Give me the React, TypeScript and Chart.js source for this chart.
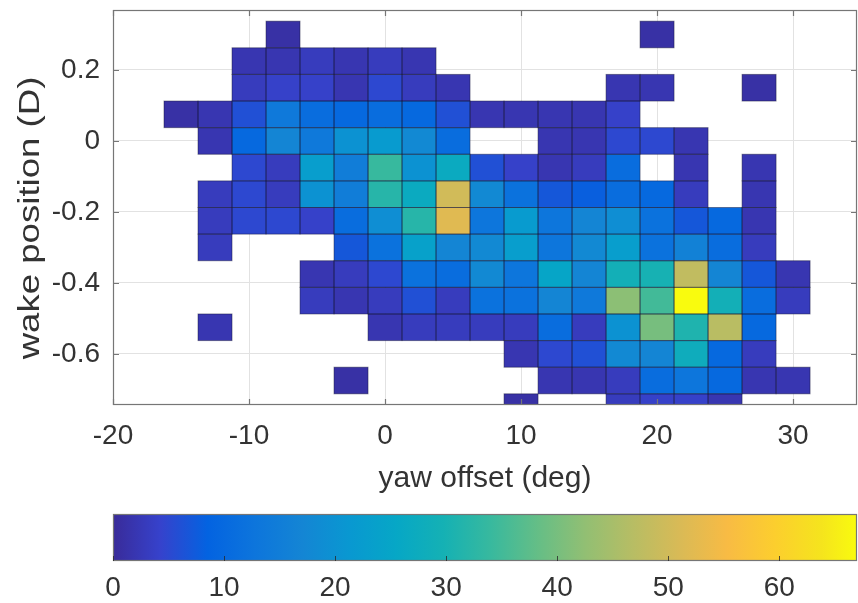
import React, { useEffect, useRef } from 'react';
import { Chart, registerables } from 'chart.js';

Chart.register(...registerables);

// ---- data ----
const xCenters = [-15, -12.5, -10, -7.5, -5, -2.5, 0, 2.5, 5, 7.5, 10, 12.5, 15, 17.5, 20, 22.5, 25, 27.5, 30];
const yCenters = [0.3, 0.225, 0.15, 0.075, 0, -0.075, -0.15, -0.225, -0.3, -0.375, -0.45, -0.525, -0.6, -0.675, -0.75];

// counts per row (0 = empty bin), columns follow xCenters
const row_p300 = [0, 0, 0, 1, 0, 0, 0, 0, 0, 0, 0, 0, 0, 0, 1, 0, 0, 0, 0];
const row_p225 = [0, 0, 2, 2, 3, 2, 3, 2, 0, 0, 0, 0, 0, 0, 0, 0, 0, 0, 0];
const row_p150 = [0, 0, 3, 4, 4, 2, 5, 3, 2, 0, 0, 0, 0, 2, 2, 0, 0, 1, 0];
const row_p075 = [1, 2, 6, 14, 11, 10, 11, 10, 6, 2, 2, 2, 2, 4, 0, 0, 0, 0, 0];
const row_000 = [0, 2, 10, 17, 14, 20, 22, 18, 11, 0, 0, 2, 2, 5, 5, 2, 0, 0, 0];
const row_m075 = [0, 0, 5, 3, 23, 15, 34, 20, 27, 6, 4, 2, 3, 11, 0, 2, 0, 2, 0];
const row_m150 = [0, 3, 5, 3, 20, 15, 32, 27, 50, 18, 12, 7, 8, 11, 10, 3, 0, 2, 0];
const row_m225 = [0, 3, 5, 5, 4, 11, 19, 32, 52, 13, 22, 13, 17, 19, 12, 7, 10, 2, 0];
const row_m300 = [0, 3, 0, 0, 0, 7, 12, 24, 17, 18, 23, 13, 18, 23, 12, 16, 11, 3, 0];
const row_m375 = [0, 0, 0, 0, 2, 3, 5, 12, 11, 18, 13, 25, 17, 29, 30, 48, 17, 7, 2];
const row_m450 = [0, 0, 0, 0, 3, 2, 3, 6, 3, 12, 12, 17, 14, 42, 35, 67, 29, 11, 3];
const row_m525 = [0, 2, 0, 0, 0, 0, 2, 3, 3, 3, 3, 11, 3, 20, 40, 31, 47, 10, 0];
const row_m600 = [0, 0, 0, 0, 0, 0, 0, 0, 0, 0, 2, 5, 6, 18, 17, 28, 10, 3, 0];
const row_m675 = [0, 0, 0, 0, 0, 1, 0, 0, 0, 0, 0, 2, 2, 3, 11, 13, 10, 2, 2];
const row_m750 = [0, 0, 0, 0, 0, 0, 0, 0, 0, 0, 1, 0, 0, 3, 4, 4, 2, 0, 0];

const countRows = [row_p300, row_p225, row_p150, row_p075, row_000, row_m075, row_m150,
  row_m225, row_m300, row_m375, row_m450, row_m525, row_m600, row_m675, row_m750];

const xTickValues = [-20, -10, 0, 10, 20, 30];
const yTickValues = [0.2, 0, -0.2, -0.4, -0.6];
const colorbarTicks = [0, 10, 20, 30, 40, 50, 60];

const X_BIN = 2.5;
const Y_BIN = 0.075;
const C_MAX = 67;
const X_MIN = -20;
const X_MAX = 34.7;
const Y_MIN = -0.744;
const Y_MAX = 0.369;

const X_LABEL = 'yaw offset (deg)';
const Y_LABEL = 'wake position (D)';

// ---- style ----
const FONT = '"Liberation Sans", Arial, Helvetica, sans-serif';
const TEXT = '#333333';
const FRAME = '#767676';

// parula anchors (index out of 63)
const PARULA: [number, number, number, number][] = [
  [0, 0.2250, 0.1700, 0.6000],
  [4, 0.2100, 0.2600, 0.8000],
  [8, 0.0117, 0.3875, 0.8820],
  [12, 0.0498, 0.4586, 0.8641],
  [16, 0.0793, 0.5200, 0.8312],
  [20, 0.0343, 0.5966, 0.8199],
  [24, 0.0228, 0.6535, 0.7768],
  [28, 0.0843, 0.6928, 0.7062],
  [32, 0.2178, 0.7250, 0.6193],
  [36, 0.3953, 0.7459, 0.5244],
  [40, 0.5709, 0.7485, 0.4494],
  [44, 0.7184, 0.7411, 0.3905],
  [48, 0.8507, 0.7299, 0.3360],
  [52, 0.9739, 0.7314, 0.2666],
  [56, 0.9880, 0.8066, 0.1794],
  [60, 0.9589, 0.8949, 0.1132],
  [63, 0.9763, 0.9831, 0.0538],
];

function parula(t: number): string {
  const p = Math.max(0, Math.min(1, t)) * 63;
  let i = 0;
  while (i < PARULA.length - 2 && PARULA[i + 1][0] < p) i++;
  const a = PARULA[i];
  const b = PARULA[i + 1];
  const f = (p - a[0]) / (b[0] - a[0]);
  const c = [1, 2, 3].map((k) => Math.round(255 * (a[k] + (b[k] - a[k]) * f)));
  return `rgb(${c[0]},${c[1]},${c[2]})`;
}

const heatmapPlugin = {
  id: 'heatmapCells',
  beforeDatasetsDraw(chart: any) {
    const { ctx, chartArea, scales } = chart;
    const xs = scales.x;
    const ys = scales.y;
    const pts = chart.data.datasets[0].data as any[];
    ctx.save();
    ctx.beginPath();
    ctx.rect(chartArea.left, chartArea.top, chartArea.right - chartArea.left, chartArea.bottom - chartArea.top);
    ctx.clip();
    for (const p of pts) {
      const x0 = xs.getPixelForValue(p.x - X_BIN / 2);
      const x1 = xs.getPixelForValue(p.x + X_BIN / 2);
      const y0 = ys.getPixelForValue(p.y + Y_BIN / 2);
      const y1 = ys.getPixelForValue(p.y - Y_BIN / 2);
      ctx.fillStyle = parula(p.v / C_MAX);
      ctx.fillRect(x0, y0, x1 - x0, y1 - y0);
    }
    ctx.strokeStyle = 'rgba(20,20,50,0.45)';
    ctx.lineWidth = 1;
    for (const p of pts) {
      const x0 = xs.getPixelForValue(p.x - X_BIN / 2);
      const x1 = xs.getPixelForValue(p.x + X_BIN / 2);
      const y0 = ys.getPixelForValue(p.y + Y_BIN / 2);
      const y1 = ys.getPixelForValue(p.y - Y_BIN / 2);
      ctx.strokeRect(x0, y0, x1 - x0, y1 - y0);
    }
    ctx.restore();
  },
};

const framePlugin = {
  id: 'matlabFrame',
  afterDraw(chart: any) {
    const { ctx, chartArea, scales } = chart;
    const { left, right, top, bottom } = chartArea;
    ctx.save();
    ctx.strokeStyle = FRAME;
    ctx.lineWidth = 1.2;
    ctx.strokeRect(left + 0.5, top + 0.5, right - left - 1, bottom - top - 1);
    const tl = 6;
    ctx.beginPath();
    for (const v of xTickValues) {
      const px = Math.round(scales.x.getPixelForValue(v)) + 0.5;
      ctx.moveTo(px, bottom); ctx.lineTo(px, bottom - tl);
      ctx.moveTo(px, top); ctx.lineTo(px, top + tl);
    }
    for (const v of yTickValues) {
      const py = Math.round(scales.y.getPixelForValue(v)) + 0.5;
      ctx.moveTo(left, py); ctx.lineTo(left + tl, py);
      ctx.moveTo(right, py); ctx.lineTo(right - tl, py);
    }
    ctx.stroke();
    // y axis label (stretched along its length as in the reference)
    ctx.translate(31, 218);
    ctx.rotate(-Math.PI / 2);
    ctx.scale(1.22, 1);
    ctx.font = `30px ${FONT}`;
    ctx.fillStyle = TEXT;
    ctx.textAlign = 'center';
    ctx.textBaseline = 'middle';
    ctx.fillText(Y_LABEL, 0, 0);
    ctx.restore();
  },
};

const colorbarPlugin = {
  id: 'colorbarFill',
  beforeDatasetsDraw(chart: any) {
    const { ctx, chartArea, scales } = chart;
    const xs = scales.x;
    const { left, right, top, bottom } = chartArea;
    const g = ctx.createLinearGradient(xs.getPixelForValue(0), 0, xs.getPixelForValue(C_MAX), 0);
    for (const a of PARULA) {
      const t = a[0] / 63;
      g.addColorStop(t, parula(t));
    }
    ctx.save();
    ctx.fillStyle = g;
    ctx.fillRect(left, top, right - left, bottom - top);
    ctx.strokeStyle = FRAME;
    ctx.lineWidth = 1.2;
    ctx.strokeRect(left + 0.5, top + 0.5, right - left - 1, bottom - top - 1);
    ctx.strokeStyle = 'rgba(40,40,40,0.8)';
    ctx.lineWidth = 1;
    ctx.beginPath();
    for (const v of colorbarTicks) {
      const px = Math.round(xs.getPixelForValue(v)) + 0.5;
      ctx.moveTo(px, bottom);
      ctx.lineTo(px, bottom - 5);
    }
    ctx.stroke();
    ctx.restore();
  },
};

function buildPoints() {
  const pts: { x: number; y: number; v: number }[] = [];
  countRows.forEach((row, i) => {
    row.forEach((v, j) => {
      if (v > 0) pts.push({ x: xCenters[j], y: yCenters[i], v });
    });
  });
  return pts;
}

export default function App() {
  const mainRef = useRef<HTMLCanvasElement | null>(null);
  const barRef = useRef<HTMLCanvasElement | null>(null);

  useEffect(() => {
    const tickFont = { family: FONT, size: 28 };
    const main = new Chart(mainRef.current as HTMLCanvasElement, {
      type: 'scatter',
      data: {
        datasets: [{ data: buildPoints() as any, pointRadius: 0, pointHoverRadius: 0 }],
      },
      options: {
        responsive: false,
        animation: false,
        events: [],
        layout: { padding: { left: 0, top: 10, right: 1, bottom: 0 } },
        plugins: { legend: { display: false }, tooltip: { enabled: false } },
        scales: {
          x: {
            type: 'linear',
            min: X_MIN,
            max: X_MAX,
            afterFit: (s: any) => { s.height = 95; s.paddingLeft = 0; s.paddingRight = 0; },
            afterBuildTicks: (s: any) => { s.ticks = xTickValues.map((v) => ({ value: v })); },
            ticks: {
              font: tickFont, color: TEXT, padding: 14, maxRotation: 0, autoSkip: false,
              callback: (v: any) => String(v),
            },
            grid: { color: '#e2e2e2', drawTicks: false, lineWidth: 1 },
            border: { display: false },
            title: {
              display: true, text: X_LABEL, color: TEXT,
              font: { family: FONT, size: 30 }, padding: { top: 0, bottom: 3 },
            },
          },
          y: {
            type: 'linear',
            min: Y_MIN,
            max: Y_MAX,
            afterFit: (s: any) => { s.width = 113; s.paddingTop = 0; s.paddingBottom = 0; },
            afterBuildTicks: (s: any) => { s.ticks = yTickValues.map((v) => ({ value: v })); },
            ticks: {
              font: tickFont, color: TEXT, padding: 13, autoSkip: false,
              callback: (v: any) => String(v),
            },
            grid: { color: '#e2e2e2', drawTicks: false, lineWidth: 1 },
            border: { display: false },
          },
        },
      } as any,
      plugins: [heatmapPlugin, framePlugin],
    });

    const bar = new Chart(barRef.current as HTMLCanvasElement, {
      type: 'scatter',
      data: { datasets: [{ data: [], pointRadius: 0 }] },
      options: {
        responsive: false,
        animation: false,
        events: [],
        layout: { padding: { left: 113, top: 14, right: 1, bottom: 0 } },
        plugins: { legend: { display: false }, tooltip: { enabled: false } },
        scales: {
          x: {
            type: 'linear',
            min: 0,
            max: C_MAX,
            afterFit: (s: any) => { s.height = 42; s.paddingLeft = 0; s.paddingRight = 0; },
            afterBuildTicks: (s: any) => { s.ticks = colorbarTicks.map((v) => ({ value: v })); },
            ticks: {
              font: tickFont, color: TEXT, padding: 10, maxRotation: 0, autoSkip: false,
              callback: (v: any) => String(v),
            },
            grid: { display: false, drawTicks: false },
            border: { display: false },
          },
          y: { display: false, min: 0, max: 1 },
        },
      } as any,
      plugins: [colorbarPlugin],
    });

    return () => {
      main.destroy();
      bar.destroy();
    };
  }, []);

  return (
    <div style={{ position: 'fixed', left: 0, top: 0, width: 858, height: 603, background: '#ffffff' }}>
      <canvas ref={mainRef} width={858} height={500} style={{ position: 'absolute', left: 0, top: 0, display: 'block' }} />
      <canvas ref={barRef} width={858} height={103} style={{ position: 'absolute', left: 0, top: 500, display: 'block' }} />
    </div>
  );
}
